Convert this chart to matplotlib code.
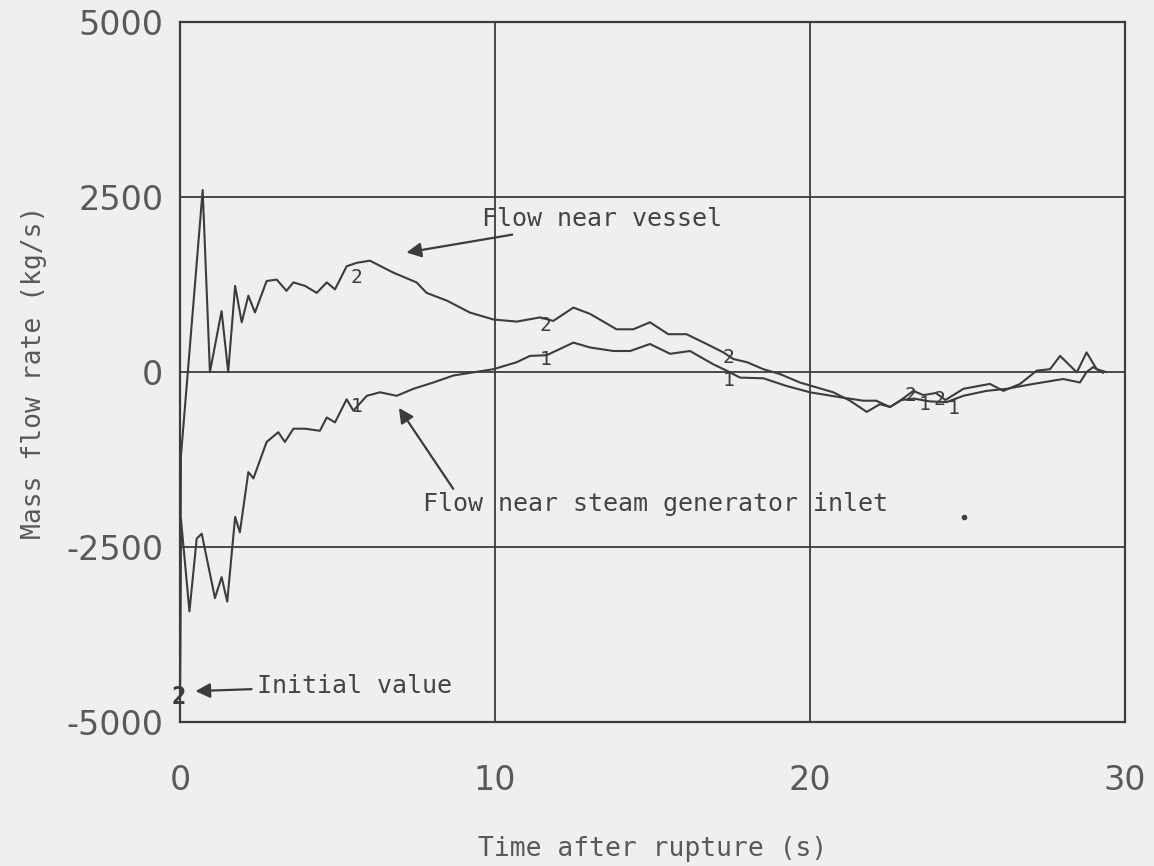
import matplotlib
matplotlib.use("Agg")
import matplotlib.pyplot as plt

# flow near vessel (curve 2)
t_vessel = [0, 0.03, 0.72, 0.95, 1.32, 1.53, 1.75, 1.96, 2.17, 2.38, 2.75, 3.07, 3.38, 3.6,
            3.97, 4.34, 4.66, 4.92, 5.29, 5.61, 6.03, 6.77, 7.51, 7.83, 8.47, 9.2, 9.95,
            10.69, 11.43, 11.85, 12.49, 13.02, 13.86, 14.39, 14.92, 15.5, 16.08, 16.72,
            17.25, 17.57, 18.0, 18.52, 19.05, 19.68, 20.74, 21.27, 21.8, 22.22, 22.54,
            22.86, 23.28, 23.6, 24.0, 24.3, 24.87, 25.71, 26.14, 26.67, 27.2, 27.62,
            27.94, 28.47, 28.78, 29.1, 29.4]
m_vessel = [-4600, -1200, 2600, 0, 870, 0, 1230, 710, 1090, 850, 1300, 1320, 1160, 1280,
            1230, 1130, 1280, 1180, 1510, 1560, 1590, 1420, 1280, 1130, 1020, 850, 750,
            720, 780, 730, 920, 830, 610, 610, 710, 540, 540, 400,
            280, 185, 140, 40, -30, -150, -290, -410, -570, -460, -500,
            -410, -270, -330, -300, -400, -240, -170, -270, -170, 20, 40,
            230, -5, 280, 40, 0]

# flow near steam generator inlet (curve 1)
t_sg = [0, 0.03, 0.3, 0.53, 0.69, 1.11, 1.32, 1.5, 1.75, 1.9, 2.17, 2.33, 2.75, 3.12,
        3.33, 3.6, 3.97, 4.44, 4.66, 4.92, 5.29, 5.5, 5.61, 5.93, 6.35, 6.88, 7.41,
        8.04, 8.68, 9.31, 9.95, 10.69, 11.11, 11.64, 12.49, 13.02, 13.76, 14.29,
        14.92, 15.56, 16.19, 16.93, 17.35, 17.78, 18.52, 19.26, 20.0, 20.95, 21.69,
        22.1, 22.54, 22.9, 23.3, 23.8, 24.34, 24.87, 25.6, 26.24, 27.09, 28.04,
        28.57, 28.78, 28.99, 29.3]
m_sg = [-4600, -2100, -3420, -2380, -2310, -3230, -2930, -3280, -2070, -2290, -1430, -1520, -1000, -860,
        -1000, -810, -810, -840, -650, -720, -390, -550, -500, -340, -290, -340, -240,
        -150, -50, -5, 40, 140, 230, 240, 420, 350, 300, 300,
        400, 260, 300, 110, 20, -80, -90, -200, -290, -360, -410,
        -410, -500, -400, -380, -420, -430, -340, -270, -240, -170, -100,
        -150, 0, 70, -10]

# curve id numbers written along the traces
lab_t = [5.6, 5.6, 11.6, 11.6, 17.4, 17.4, 23.2, 23.65, 24.1, 24.55]
lab_m = [1350, -500, 660, 185, 210, -125, -330, -470, -390, -520]
lab_txt = ['2', '1', '2', '1', '2', '1', '2', '1', '2', '1']

xticks = [0, 10, 20, 30]
yticks = [-5000, -2500, 0, 2500, 5000]
ytick_labels = ['-5000', '-2500', '0', '2500', '5000']

bg = '#efefed'
ink = '#3c3c3c'
mono = 'DejaVu Sans Mono'

fig = plt.figure(figsize=(11.54, 8.66), dpi=100, facecolor=bg)
ax = fig.add_axes([180/1154, 144/866, 945/1154, 700/866], facecolor=bg)

ax.plot(t_vessel, m_vessel, color=ink, lw=1.5)
ax.plot(t_sg, m_sg, color=ink, lw=1.5)

for tt, mm, s in zip(lab_t, lab_m, lab_txt):
    ax.text(tt, mm, s, family=mono, fontsize=14, color=ink, ha='center', va='center')

ax.set_xlim(0, 30)
ax.set_ylim(-5000, 5000)
ax.set_xticks(xticks)
ax.set_yticks(yticks)
ax.set_yticklabels(ytick_labels)
ax.grid(True, color=ink, lw=1.3)
for sp in ax.spines.values():
    sp.set_color(ink)
    sp.set_linewidth(1.6)
ax.tick_params(length=0, labelsize=24, labelcolor='#595959')
ax.tick_params(axis='x', pad=30)
ax.tick_params(axis='y', pad=12)

ax.set_xlabel('Time after rupture (s)', family=mono, fontsize=19, color='#595959', labelpad=28)
ax.set_ylabel('Mass flow rate (kg/s)', family=mono, fontsize=19, color='#595959', labelpad=14)

# annotations
ax.annotate('Flow near vessel', xy=(7.1, 1700), xytext=(9.6, 2180),
            family=mono, fontsize=18, color='#444444', va='center',
            arrowprops=dict(arrowstyle='-|>', color=ink, lw=1.6, mutation_scale=22))
ax.annotate('Flow near steam generator inlet', xy=(6.9, -480), xytext=(7.7, -1880),
            family=mono, fontsize=18, color='#444444', va='center',
            arrowprops=dict(arrowstyle='-|>', color=ink, lw=1.6, mutation_scale=22,
                            shrinkA=0, relpos=(0.07, 1.0)))
ax.annotate('Initial value', xy=(0.4, -4560), xytext=(2.45, -4480),
            family=mono, fontsize=18, color='#444444', va='center',
            arrowprops=dict(arrowstyle='-|>', color=ink, lw=1.6, mutation_scale=22))
ax.text(-0.05, -4650, '2', family=mono, fontsize=17, fontweight='bold', color=ink,
        ha='center', va='center', clip_on=False)
ax.plot([24.9], [-2070], marker='o', ms=3, color=ink)

fig.savefig('out.png', dpi=100, facecolor=bg)
